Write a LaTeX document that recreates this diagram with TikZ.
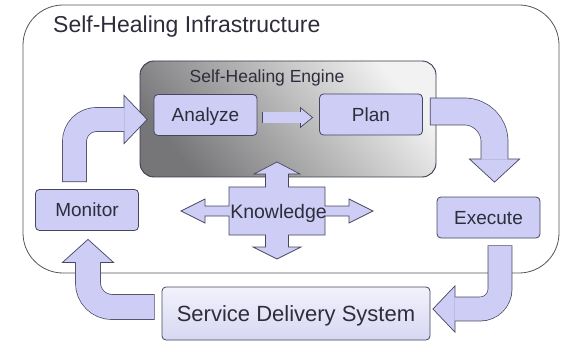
\documentclass[tikz,border=0pt]{standalone}
\usepackage{fontspec}
\setmainfont{Liberation Sans}
\usetikzlibrary{arrows.meta}

\definecolor{boxfill}{RGB}{205,205,245}
\definecolor{boxline}{RGB}{70,70,95}
\definecolor{labeltext}{RGB}{45,45,60}
\definecolor{framegray}{RGB}{85,85,85}
\definecolor{enginedark}{RGB}{118,118,120}
\definecolor{enginemid}{RGB}{185,185,186}
\definecolor{enginelight}{RGB}{242,242,242}
\definecolor{sdstop}{RGB}{242,242,252}
\definecolor{sdsbottom}{RGB}{215,215,242}

\begin{document}
\begin{tikzpicture}[x=1pt, y=-1pt,
        box/.style={draw=boxline, fill=boxfill, line width=0.8pt, rounded corners=4pt,
          minimum width=103pt, minimum height=41pt, inner sep=0pt, text=labeltext,
          font=\fontsize{19}{22}\selectfont, text height=13.6pt, text depth=0pt}]
        \def\blockarrow#1#2#3#4#5{%
          \draw[boxline, line width=#1pt+0.7pt, rounded corners=#4pt,
            -{Triangle[width=#2pt, length=#3pt, line width'=0.7pt, fill=boxfill]}] #5;
          \draw[boxfill, line width=#1pt-0.7pt, rounded corners=#4pt,
            shorten <=0.7pt, shorten >=#3pt-1pt] #5;}

        \useasboundingbox (0,0) rectangle (577,347);

        \node[draw=framegray, line width=0.8pt, rounded corners=40pt,
          minimum width=536pt, minimum height=268pt] (infra) at (291,139) {};
        \node[anchor=base west, inner sep=0pt, text=labeltext,
          font=\fontsize{23}{27}\selectfont] (infratitle) at (53,33) {Self-Healing Infrastructure};

        \node[draw=boxline!80!black, line width=0.9pt, rounded corners=14pt,
          minimum width=296pt, minimum height=116pt,
          left color=enginedark, middle color=enginemid, right color=enginelight,
          shading angle=130] (engine) at (288,119) {};
        \node[anchor=base, inner sep=0pt, text=labeltext,
          font=\fontsize{17.5}{21}\selectfont] (enginetitle) at (267,83) {Self-Healing Engine};

        \node[box] (ana) at (205.5,115) {Analyze};
        \node[box] (plan) at (371,114.5) {Plan};
        \node[box] (mon) at (87,210) {Monitor};
        \node[box] (exe) at (488.5,217.5) {Execute};
        \node[box, minimum width=268pt, minimum height=53pt, top color=sdstop, bottom color=sdsbottom,
          font=\fontsize{22}{26}\selectfont, text height=15.8pt] (sds) at (296,313.5) {Service Delivery System};

        \blockarrow{24}{50}{24}{22}{([xshift=-12.5pt,yshift=7pt]mon.north) |- ([xshift=-6pt,yshift=-4.5pt]ana.west)}
        \blockarrow{11}{21}{13}{0}{([xshift=5pt,yshift=-2.5pt]ana.east) -- ([xshift=-6pt,yshift=-3pt]plan.west)}
        \blockarrow{27}{52}{24}{30}{([xshift=7pt,yshift=3pt]plan.east) -| ([xshift=6pt,yshift=14pt]exe.north)}
        \blockarrow{24}{48}{23}{20}{([xshift=11.5pt,yshift=-7pt]exe.south) |- ([xshift=2pt,yshift=4.5pt]sds.east)}
        \blockarrow{25}{53}{24}{24}{([xshift=-7pt,yshift=6.5pt]sds.west) -| ([xshift=1pt,yshift=-8pt]mon.south)}

        \coordinate (knowc) at (277,211);
        \begin{scope}[shift={(knowc)}]
          \draw[boxline, fill=boxfill, line width=0.7pt]
            (-48,-24) -- (-11.5,-24) -- (-11.5,-37) -- (-23,-37) -- (0,-49) -- (23,-37) -- (11.5,-37)
            -- (11.5,-24) -- (48,-24) -- (48,-5) -- (72,-5) -- (72,-12) -- (96,0) -- (72,12) -- (72,5)
            -- (48,5) -- (48,24) -- (11.5,24) -- (11.5,36) -- (24,36) -- (0,48) -- (-24,36) -- (-11.5,36)
            -- (-11.5,24) -- (-48,24) -- (-48,5) -- (-72,5) -- (-72,12) -- (-96,0) -- (-72,-12) -- (-72,-5)
            -- (-48,-5) -- cycle;
        \end{scope}
        \node[inner sep=0pt, text=labeltext, font=\fontsize{19.5}{23}\selectfont,
          text height=14pt, text depth=0pt] (know) at (278.5,211) {Knowledge};
\end{tikzpicture}
\end{document}
